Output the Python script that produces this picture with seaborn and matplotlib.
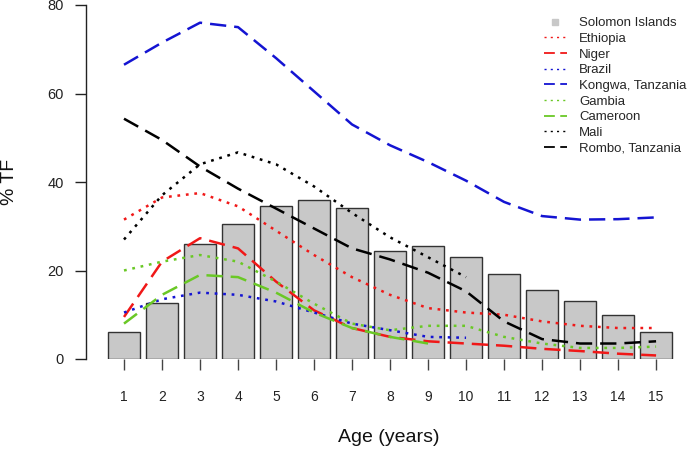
import matplotlib
matplotlib.use("Agg")
import matplotlib.pyplot as plt
import seaborn as sns
import pandas as pd
import numpy as np
from matplotlib.lines import Line2D

ages = list(range(1, 16))
solomon = [6.1, 12.6, 25.9, 30.5, 34.6, 36.0, 34.2, 24.3, 25.6, 23.1, 19.2, 15.6, 13.0, 9.9, 6.0]

ethiopia = [31.5, 36.5, 37.5, 34.5, 29.0, 23.5, 18.5, 14.5, 11.5, 10.5, 10.0, 8.5, 7.5, 7.0, 7.0]
niger = [9.5, 22.0, 27.3, 25.0, 17.5, 11.0, 7.0, 5.0, 4.0, 3.5, 3.0, 2.3, 1.8, 1.2, 0.8]
brazil = [10.5, 13.5, 15.0, 14.5, 13.0, 10.5, 8.0, 6.5, 5.0, 4.8]
kongwa = [66.5, 71.5, 76.0, 75.0, 68.0, 60.5, 53.0, 48.3, 44.5, 40.3, 35.5, 32.3, 31.5, 31.6, 32.0]
gambia = [20.0, 22.0, 23.5, 22.0, 17.5, 12.5, 8.0, 6.5, 7.5, 7.5, 5.0, 3.5, 2.5, 2.5, 2.8]
cameroon = [8.0, 14.5, 19.0, 18.5, 15.0, 10.5, 7.0, 5.0, 3.5]
mali = [27.0, 37.0, 44.0, 46.7, 44.0, 39.0, 33.0, 27.5, 23.0, 18.5]
rombo = [54.3, 49.5, 43.5, 38.5, 34.0, 29.5, 25.0, 22.5, 19.5, 15.3, 8.5, 4.5, 3.5, 3.5, 4.0]

series_names = ["Ethiopia", "Niger", "Brazil", "Kongwa, Tanzania", "Gambia",
                "Cameroon", "Mali", "Rombo, Tanzania"]
series_vals = [ethiopia, niger, brazil, kongwa, gambia, cameroon, mali, rombo]

RED = "#F01818"
BLUE = "#1414D2"
GREEN = "#6AC826"
styles = {
    "Ethiopia": (RED, "dot"),
    "Niger": (RED, "dash"),
    "Brazil": (BLUE, "dot"),
    "Kongwa, Tanzania": (BLUE, "dash"),
    "Gambia": (GREEN, "dot"),
    "Cameroon": (GREEN, "dash"),
    "Mali": ("black", "dot"),
    "Rombo, Tanzania": ("black", "dash"),
}

sns.set_style("white")
plt.rcParams['font.family'] = ['Liberation Sans', 'DejaVu Sans']

fig = plt.figure(figsize=(6.88, 4.49), dpi=100)
ax = fig.add_axes([86 / 688, 90 / 449, 1 - 86 / 688, 354 / 449])

bar_df = pd.DataFrame({"age": ages, "tf": solomon})
ax.bar(bar_df["age"], bar_df["tf"], width=0.84, color="#C8C8C8",
       edgecolor="#333333", linewidth=1.0, zorder=1, label="Solomon Islands")

rows = []
for name, vals in zip(series_names, series_vals):
    for a, v in zip(ages, vals):
        rows.append({"age": a, "tf": v, "series": name})
df = pd.DataFrame(rows)

lw = 1.8
for name in series_names:
    col, st = styles[name]
    sub = df[df["series"] == name]
    dashes = (6.5, 3.2) if st == "dash" else (1.1, 2.3)
    sns.lineplot(data=sub, x="age", y="tf", ax=ax, color=col, linewidth=lw,
                 dashes=False, zorder=3, legend=False, sort=True, estimator=None)
    line = ax.lines[-1]
    line.set_dashes(dashes)
    line.set_dash_capstyle("butt")

# legend
handles = [Line2D([], [], marker="s", color="#C8C8C8", linestyle="none", markersize=4)]
labels = ["Solomon Islands"]
for name in series_names:
    col, st = styles[name]
    if st == "dash":
        h = Line2D([], [], color=col, linewidth=1.3, dashes=(6, 3))
    else:
        h = Line2D([], [], color=col, linewidth=1.0, dashes=(1.5, 3))
    handles.append(h)
    labels.append(name)
leg = ax.legend(handles, labels, loc="upper right", bbox_to_anchor=(1.013, 0.992),
                frameon=False, fontsize=9.5, handlelength=1.8, handletextpad=0.9,
                labelspacing=0.26, borderaxespad=0.3)

ax.set_xlim(0, 15.84)
ax.set_ylim(0, 80)
ax.set_xticks(ages)
ax.set_xticklabels([str(a) for a in ages])
ax.set_yticks([0, 20, 40, 60, 80])
for s in ["top", "right", "bottom"]:
    ax.spines[s].set_visible(False)
ax.spines["left"].set_color("#222222")
ax.spines["left"].set_linewidth(1.0)
ax.tick_params(axis="x", direction="out", length=8, width=1.0, color="#444444",
               pad=14, labelsize=10, labelcolor="#222222", bottom=True)
ax.tick_params(axis="y", direction="out", length=8, width=1.0, color="#222222",
               pad=8, labelsize=10.5, labelcolor="#222222", left=True)
ax.set_xlabel("Age (years)", fontsize=14, color="#111111")
ax.set_ylabel("% TF", fontsize=14, color="#111111")
ax.xaxis.label.set_va("center")
ax.yaxis.label.set_va("center")
ax.yaxis.label.set_ha("center")
ax.xaxis.set_label_coords(0.503, (359 - 437) / 354)
ax.yaxis.set_label_coords((10 - 86) / 602, 0.5)
ax.grid(False)

fig.savefig("out.png", dpi=100)
